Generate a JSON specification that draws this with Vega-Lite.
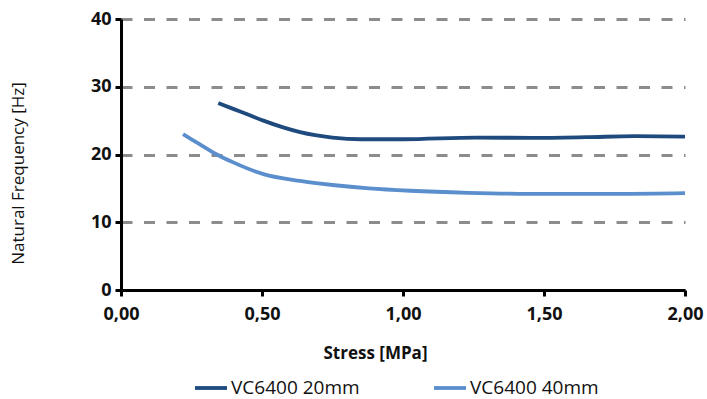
{
  "$schema": "https://vega.github.io/schema/vega-lite/v6.json",
  "width": 564,
  "height": 271,
  "autosize": {"type": "none"},
  "padding": {"left": 121, "top": 19, "right": 22, "bottom": 109},
  "background": "white",
  "config": {
    "view": {"stroke": null},
    "font": "Open Sans"
  },
  "data": {
    "values": [
      {"stress": 0.345, "freq": 27.6, "series": "VC6400 20mm"},
      {"stress": 0.40, "freq": 26.7, "series": "VC6400 20mm"},
      {"stress": 0.45, "freq": 25.9, "series": "VC6400 20mm"},
      {"stress": 0.505, "freq": 25.0, "series": "VC6400 20mm"},
      {"stress": 0.575, "freq": 24.0, "series": "VC6400 20mm"},
      {"stress": 0.635, "freq": 23.3, "series": "VC6400 20mm"},
      {"stress": 0.75, "freq": 22.5, "series": "VC6400 20mm"},
      {"stress": 0.85, "freq": 22.25, "series": "VC6400 20mm"},
      {"stress": 1.0, "freq": 22.25, "series": "VC6400 20mm"},
      {"stress": 1.26, "freq": 22.5, "series": "VC6400 20mm"},
      {"stress": 1.46, "freq": 22.45, "series": "VC6400 20mm"},
      {"stress": 1.65, "freq": 22.55, "series": "VC6400 20mm"},
      {"stress": 1.82, "freq": 22.7, "series": "VC6400 20mm"},
      {"stress": 2.0, "freq": 22.65, "series": "VC6400 20mm"},
      {"stress": 0.22, "freq": 23.0, "series": "VC6400 40mm"},
      {"stress": 0.28, "freq": 21.5, "series": "VC6400 40mm"},
      {"stress": 0.34, "freq": 20.0, "series": "VC6400 40mm"},
      {"stress": 0.40, "freq": 18.8, "series": "VC6400 40mm"},
      {"stress": 0.505, "freq": 17.1, "series": "VC6400 40mm"},
      {"stress": 0.635, "freq": 16.1, "series": "VC6400 40mm"},
      {"stress": 0.75, "freq": 15.5, "series": "VC6400 40mm"},
      {"stress": 0.88, "freq": 15.0, "series": "VC6400 40mm"},
      {"stress": 1.025, "freq": 14.65, "series": "VC6400 40mm"},
      {"stress": 1.23, "freq": 14.35, "series": "VC6400 40mm"},
      {"stress": 1.45, "freq": 14.2, "series": "VC6400 40mm"},
      {"stress": 1.76, "freq": 14.2, "series": "VC6400 40mm"},
      {"stress": 2.0, "freq": 14.3, "series": "VC6400 40mm"}
    ]
  },
  "mark": {"type": "line", "strokeWidth": 3.8, "interpolate": "monotone"},
  "encoding": {
    "x": {
      "field": "stress",
      "type": "quantitative",
      "scale": {"domain": [0, 2], "nice": false, "zero": true},
      "axis": {
        "title": "Stress [MPa]",
        "values": [0, 0.5, 1, 1.5, 2],
        "labelExpr": "replace(format(datum.value, '.2f'), '.', ',')",
        "grid": false,
        "domainColor": "black",
        "domainWidth": 3,
        "tickColor": "black",
        "tickWidth": 3,
        "tickSize": 6,
        "labelFont": "Open Sans",
        "labelFontWeight": "bold",
        "labelFontSize": 18,
        "labelColor": "#111",
        "labelPadding": 9,
        "labelFlush": false,
        "titleFont": "Open Sans",
        "titleFontWeight": "bold",
        "titleFontSize": 17,
        "titleColor": "#111",
        "titleX": 254,
        "titleY": 63,
        "titleBaseline": "middle",
        "titleAnchor": "middle"
      }
    },
    "y": {
      "field": "freq",
      "type": "quantitative",
      "scale": {"domain": [0, 40], "nice": false},
      "axis": {
        "title": "Natural Frequency [Hz]",
        "values": [0, 10, 20, 30, 40],
        "grid": true,
        "gridColor": "#8c8c8c",
        "gridWidth": 3,
        "gridDash": [11, 11.5],
        "domainColor": "black",
        "domainWidth": 3,
        "tickColor": "black",
        "tickWidth": 3,
        "tickSize": 6,
        "labelFont": "Open Sans",
        "labelFontWeight": "bold",
        "labelFontSize": 18,
        "labelColor": "#111",
        "labelPadding": 4,
        "titleFont": "Open Sans",
        "titleFontWeight": "normal",
        "titleFontSize": 17,
        "titleColor": "#111",
        "titleX": -103,
        "titleY": 154,
        "titleBaseline": "middle",
        "titleAnchor": "middle"
      }
    },
    "color": {
      "field": "series",
      "type": "nominal",
      "scale": {"domain": ["VC6400 20mm", "VC6400 40mm"], "range": ["#1F4A7D", "#5B8ECC"]},
      "legend": {
        "title": null,
        "orient": "none",
        "direction": "horizontal",
        "legendX": 72,
        "legendY": 351,
        "padding": 0,
        "symbolType": "stroke",
        "symbolSize": 1024,
        "symbolStrokeWidth": 3.8,
        "labelFont": "Open Sans",
        "labelFontSize": 19,
        "labelColor": "#111",
        "labelOffset": 2,
        "columnPadding": 66
      }
    }
  }
}
